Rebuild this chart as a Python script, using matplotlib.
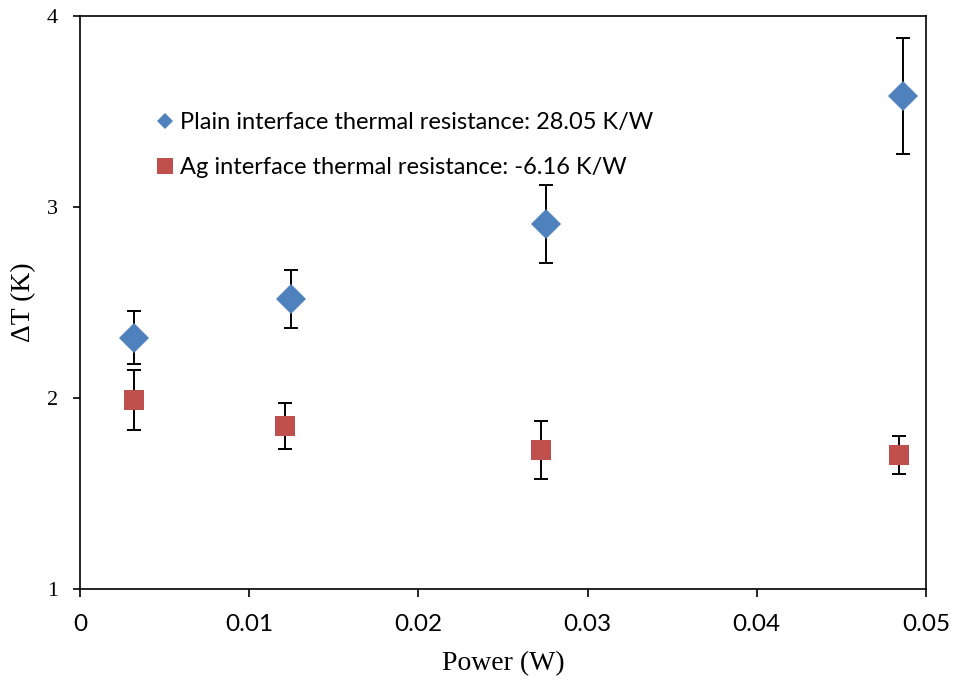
import numpy as np
import matplotlib.pyplot as plt
from matplotlib.lines import Line2D

# Dados
plain_power = [0.00319, 0.01245, 0.02754, 0.04862]
plain_dT = [2.316, 2.518, 2.911, 3.581]
plain_err = [0.139, 0.153, 0.204, 0.302]

ag_power = [0.00319, 0.01212, 0.02723, 0.04840]
ag_dT = [1.990, 1.853, 1.728, 1.702]
ag_err = [0.159, 0.121, 0.152, 0.101]

labels = ['Plain interface thermal resistance: 28.05 K/W',
          'Ag interface thermal resistance: -6.16 K/W']

x_ticks = [0, 0.01, 0.02, 0.03, 0.04, 0.05]
x_ticklabels = ['0', '0.01', '0.02', '0.03', '0.04', '0.05']
y_ticks = [1, 2, 3, 4]

BLUE = '#4F81BD'
RED = '#C0504D'


def main():
    fig = plt.figure(figsize=(9.56, 6.83), dpi=100)
    ax = fig.add_axes([0.0837, 0.1376, 0.8849, 0.839])

    # barras de erro primeiro, marcadores por cima
    for xs, ys, es in [(plain_power, plain_dT, plain_err),
                       (ag_power, ag_dT, ag_err)]:
        ax.errorbar(xs, ys, yerr=es, fmt='none', ecolor='black',
                    elinewidth=1.4, capsize=4.8, capthick=1.4, zorder=2)
    ax.plot(plain_power, plain_dT, ls='none', marker='D', color=BLUE,
            ms=15.3, mew=0, zorder=3)
    ax.plot(ag_power, ag_dT, ls='none', marker='s', color=RED,
            ms=14.4, mew=0, zorder=3)

    ax.set_xlim(0, 0.05)
    ax.set_ylim(1, 4)
    ax.set_xticks(x_ticks)
    ax.set_xticklabels(x_ticklabels)
    ax.set_yticks(y_ticks)

    serif = 'Liberation Serif'
    for lab in ax.get_xticklabels():
        lab.set_fontfamily('Lato')
        lab.set_fontsize(17.5)
    for lab in ax.get_yticklabels():
        lab.set_fontfamily(serif)
        lab.set_fontsize(16)
    ax.tick_params(axis='x', direction='out', length=6, width=1.2,
                   color='black', pad=12)
    ax.tick_params(axis='y', direction='out', length=5, width=1.2,
                   color='black', pad=11)
    for s in ax.spines.values():
        s.set_linewidth(1.2)

    ax.set_xlabel('Power (W)', fontfamily=serif, fontsize=20)
    ax.set_ylabel('ΔT (K)', fontfamily=serif, fontsize=20)
    ax.xaxis.set_label_coords(0.5, -0.108)
    ax.yaxis.set_label_coords(-0.052, 0.5)

    # Legenda sem moldura
    handles = [
        Line2D([], [], ls='none', marker='D', color=BLUE, ms=8.3, mew=0),
        Line2D([], [], ls='none', marker='s', color=RED, ms=12.2, mew=0),
    ]
    ax.legend(handles, labels, loc='upper left', bbox_to_anchor=(0.0898, 0.832),
              frameon=False, handlelength=0.8, handletextpad=0.2,
              labelspacing=1.0, borderpad=0, borderaxespad=0,
              prop={'family': 'Lato', 'size': 17})

    fig.savefig('out.png', dpi=100)


if __name__ == '__main__':
    main()
